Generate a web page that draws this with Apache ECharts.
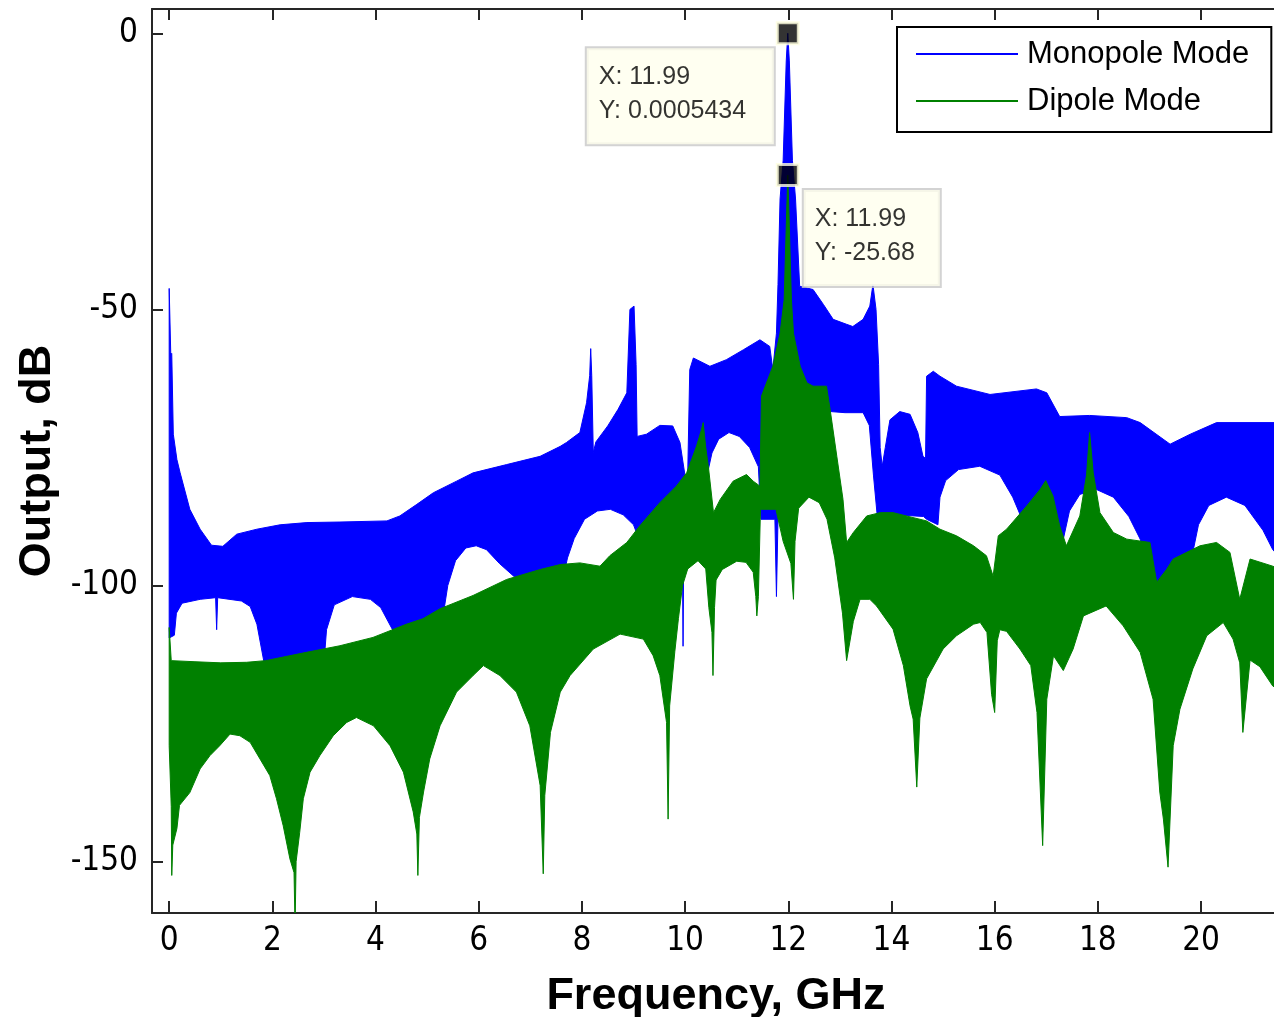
<!DOCTYPE html>
<html>
<head>
<meta charset="utf-8">
<script src="https://cdn.jsdelivr.net/npm/echarts@6/dist/echarts.min.js"></script>
<style>
  html, body { margin: 0; padding: 0; background: #fff; }
  #chart { width: 1274px; height: 1017px; }
</style>
</head>
<body>
<div id="chart"></div>
<script>
// Peak readings shown in the data tips: [frequency GHz, output dB]
const monopolePeak = [11.99, 0.0005434];
const dipolePeak = [11.99, -25.68];

// Monopole mode: upper and lower edges of the oscillating response band [GHz, dB]
const monopoleUpper = [
  [0.00,-46.2],[0.03,-57.8],[0.05,-58],[0.08,-72.6],[0.15,-77.2],[0.21,-79.5],[0.40,-86.2],[0.60,-89.8],
  [0.82,-92.7],[1.04,-92.9],[1.31,-90.7],[1.70,-89.8],[2.15,-89.0],[2.67,-88.6],[3.31,-88.5],[4.22,-88.3],
  [4.47,-87.4],[4.80,-85.3],[5.12,-83.2],[5.57,-81.1],[5.89,-79.6],[6.54,-78.1],[7.19,-76.6],[7.58,-74.8],
  [7.70,-74.1],[7.96,-72.3],[8.09,-66.9],[8.15,-62],[8.17,-57.1],[8.19,-62],[8.22,-75.9],[8.27,-74],
  [8.50,-71.1],[8.70,-68.1],[8.87,-65.1],[8.93,-50.0],[9.01,-49.4],[9.05,-60],[9.07,-73],[9.25,-72.6],
  [9.51,-71],[9.76,-71.1],[9.90,-74.1],[10.00,-80.2],[10.05,-80],[10.09,-60.9],[10.16,-58.8],[10.48,-60.3],
  [10.80,-59.1],[11.13,-57.3],[11.45,-55.5],[11.64,-56.7],[11.70,-60.9],[11.77,-54.3],[11.80,-45.5],
  [11.84,-30],[11.90,-23],[11.96,-5],monopolePeak,[12.02,-5],[12.08,-23],[12.14,-30],[12.22,-45.8],
  [12.48,-46.4],[12.68,-49.1],[12.87,-51.8],[13.13,-52.7],[13.25,-53.1],[13.45,-51.8],[13.58,-49.4],
  [13.64,-45.5],[13.70,-50],[13.75,-60],[13.78,-75],[13.82,-78.4],[13.88,-75],[13.97,-70],[14.16,-68.5],
  [14.36,-69],[14.51,-72.3],[14.61,-76.6],[14.66,-77],[14.68,-62.1],[14.81,-61.2],[14.94,-62.1],
  [15.26,-63.9],[15.91,-65.4],[16.81,-64.4],[17.01,-65.1],[17.26,-69.4],[17.84,-69.2],[18.56,-69.6],
  [18.82,-70.5],[19.40,-74.4],[19.79,-72.6],[20.30,-70.5],[21.53,-70.5]
];
const monopoleLower = [
  [0.00,-109.5],[0.10,-109],[0.14,-105],[0.25,-103.2],[0.60,-102.5],[0.90,-102.2],[0.92,-108],[0.94,-102.2],
  [1.40,-102.8],[1.57,-103.8],[1.70,-107],[1.85,-114.5],[3.00,-114],[3.05,-108],[3.20,-103.5],[3.55,-102],
  [3.90,-102.5],[4.10,-104],[4.30,-107.5],[4.45,-110],[5.30,-106],[5.40,-100],[5.55,-95.5],[5.75,-93.2],
  [5.95,-92.8],[6.15,-93.5],[6.40,-96],[6.70,-98.5],[6.80,-100],[7.65,-98],[7.72,-95],[7.85,-91.5],
  [8.05,-88],[8.30,-86.5],[8.55,-86.2],[8.80,-87.2],[9.00,-89],[9.12,-92],[9.15,-94],[9.85,-88],
  [9.94,-84],[9.96,-111],[9.98,-84],[10.10,-80],[10.30,-78],[10.45,-79],[10.52,-76],[10.65,-73.5],
  [10.85,-72.3],[11.05,-73],[11.25,-75],[11.42,-78.5],[11.47,-88],[11.74,-88],[11.77,-102],[11.80,-88],
  [12.00,-84],[12.50,-66],[12.72,-66],[12.82,-68.5],[13.10,-68.7],[13.45,-68.7],[13.57,-71],[13.65,-80],
  [13.72,-87],[14.62,-87.5],[14.68,-88],[14.90,-89],[14.94,-84],[15.05,-81],[15.30,-79],[15.71,-78.4],
  [16.10,-80],[16.35,-84],[16.53,-88],[16.60,-94],[17.30,-94],[17.33,-91.6],[17.45,-86.5],[17.65,-83.5],
  [17.97,-82.6],[18.30,-84],[18.60,-87.5],[18.82,-91.6],[19.00,-97],[19.20,-105.5],[19.40,-98],
  [19.70,-95],[19.84,-94],[19.95,-89],[20.15,-85.5],[20.49,-84],[20.85,-85.5],[21.20,-90],[21.39,-93.5],
  [21.53,-95]
];

// Dipole mode: upper and lower edges of the oscillating response band [GHz, dB]
const dipoleUpper = [
  [0.00,-107.6],[0.04,-113.6],[0.50,-113.8],[1.00,-114],[1.50,-113.9],[1.87,-113.6],[2.66,-112.1],
  [3.31,-110.9],[3.95,-109.4],[4.60,-107],[4.92,-106],[5.25,-104.2],[5.89,-101.8],[6.54,-98.9],
  [7.19,-97.1],[7.58,-96.2],[7.96,-95.9],[8.35,-96.5],[8.54,-94.6],[8.87,-92.2],[9.12,-89.2],[9.51,-85],
  [9.83,-82],[10.03,-79.6],[10.22,-74.8],[10.31,-72],[10.35,-70.5],[10.40,-75],[10.45,-78.4],
  [10.55,-86.8],[10.68,-84.4],[10.93,-81.1],[11.19,-79.9],[11.32,-81.1],[11.45,-82],[11.48,-65.7],
  [11.70,-60.3],[11.84,-54.3],[11.92,-48.2],[11.96,-35],dipolePeak,[12.02,-35],[12.06,-48.2],
  [12.10,-54.3],[12.23,-60.3],[12.36,-63.3],[12.48,-63.9],[12.74,-63.9],[12.81,-68.1],[12.94,-76.6],
  [13.06,-84.4],[13.13,-92.2],[13.26,-90.4],[13.52,-87.4],[13.78,-86.8],[14.03,-86.8],[14.68,-88.3],
  [14.94,-89.8],[15.26,-91],[15.59,-92.8],[15.84,-94.6],[15.97,-98.3],[16.07,-91],[16.23,-89.8],
  [16.62,-85.6],[16.88,-82.6],[16.99,-81],[17.13,-83.8],[17.26,-89.2],[17.39,-92.8],[17.65,-87.4],
  [17.78,-80],[17.84,-72.3],[17.91,-79.6],[18.04,-86.8],[18.30,-90.4],[18.56,-91.6],[19.01,-92.2],
  [19.14,-99.4],[19.33,-97.1],[19.46,-95.2],[19.98,-92.8],[20.30,-92.2],[20.56,-94],[20.75,-102.5],
  [20.95,-95.2],[21.39,-96.5],[21.53,-97]
];
const dipoleLower = [
  [0.00,-129],[0.04,-140],[0.05,-152.5],[0.07,-147],[0.15,-144],[0.20,-139.8],[0.40,-137.5],[0.60,-133.2],
  [0.79,-130.8],[0.98,-129],[1.18,-126.9],[1.37,-127.2],[1.57,-128.4],[1.76,-131.4],[1.95,-134.4],
  [2.08,-138.6],[2.21,-143.5],[2.34,-149.5],[2.42,-152],[2.44,-162],[2.46,-150],[2.53,-144.7],
  [2.60,-138.6],[2.73,-133.8],[2.92,-130.8],[3.18,-127.2],[3.44,-124.8],[3.63,-123.9],[3.96,-125.4],
  [4.28,-129],[4.54,-133.8],[4.73,-141],[4.80,-145],[4.82,-152.5],[4.85,-142],[4.93,-137.4],[5.05,-131.4],
  [5.25,-125.4],[5.57,-119.3],[5.89,-116.3],[6.09,-114.5],[6.41,-116.3],[6.73,-119.3],[6.99,-125.4],
  [7.19,-136.2],[7.25,-152.2],[7.28,-138],[7.39,-126.6],[7.58,-119.3],[7.77,-116.3],[8.22,-111.5],
  [8.74,-108.8],[9.19,-109.7],[9.38,-112.7],[9.51,-116.3],[9.64,-124.8],[9.67,-142.3],[9.70,-121.8],
  [9.80,-112],[9.87,-106],[9.95,-100],[10.05,-97],[10.25,-95.5],[10.40,-97],[10.46,-104],[10.52,-108.5],
  [10.54,-116.3],[10.57,-104],[10.60,-99],[10.72,-97.1],[11.00,-95.6],[11.18,-95.8],[11.32,-97.6],
  [11.37,-102],[11.39,-105.5],[11.42,-102],[11.46,-86.2],[11.76,-86.2],[11.90,-92],[12.05,-96],
  [12.10,-102.5],[12.13,-92],[12.20,-86],[12.40,-84],[12.60,-85],[12.75,-88],[12.90,-95],[13.05,-105],
  [13.13,-113.6],[13.26,-106.5],[13.39,-102.5],[13.58,-102.5],[13.71,-103.7],[14.03,-107.9],[14.23,-114.5],
  [14.36,-121.8],[14.42,-124.2],[14.49,-136.5],[14.55,-124],[14.68,-116.9],[15.00,-111.5],[15.26,-109.1],
  [15.59,-107],[15.72,-106.7],[15.85,-108.5],[15.94,-119.7],[16.00,-123],[16.05,-110],[16.10,-108],
  [16.23,-108.3],[16.49,-111.5],[16.70,-114.5],[16.82,-123],[16.93,-147.1],[17.01,-120.6],[17.14,-112.7],
  [17.33,-115.4],[17.52,-111.5],[17.72,-105.5],[18.16,-103.7],[18.49,-107.3],[18.82,-112.1],[19.07,-120.6],
  [19.20,-137.4],[19.27,-142.3],[19.36,-151],[19.46,-129],[19.59,-122.4],[19.84,-115.1],[20.11,-109.1],
  [20.43,-106.7],[20.62,-109.7],[20.75,-114],[20.81,-126.6],[20.95,-113.5],[21.14,-114.7],[21.39,-118.2],
  [21.53,-119]
];

// Axis ticks
const xTicks = [0, 2, 4, 6, 8, 10, 12, 14, 16, 18, 20];
const yTicks = [-150, -100, -50, 0];

const FONT = 'Liberation Sans, Arial, sans-serif';
const TICK_FONT = 'Liberation Sans Narrow, Arial Narrow, DejaVu Sans Condensed, Liberation Sans, sans-serif';
const AXIS_COLOR = '#262626';

// A response band: polygon running along the upper edge and back along the lower edge
function bandSeries(name, color, upper, lower) {
  const outline = upper.concat(lower.slice().reverse());
  return {
    type: 'custom',
    name: name,
    coordinateSystem: 'cartesian2d',
    clip: true,
    silent: true,
    itemStyle: { color: color },
    encode: { x: 0, y: 1 },
    data: outline,
    renderItem: function (params, api) {
      if (params.dataIndexInside !== 0) return null;
      const n = params.dataInsideLength;
      const pts = [];
      for (let i = 0; i < n; i++) {
        pts.push(api.coord([api.value(0, i), api.value(1, i)]));
      }
      return {
        type: 'polygon',
        shape: { points: pts },
        style: { fill: color, stroke: color, lineWidth: 1 }
      };
    }
  };
}

// Data tip: black square marker with a pale yellow box stating its coordinates
function dataTip(point, offset, width, padding) {
  return {
    type: 'scatter',
    data: [point],
    symbol: 'rect',
    symbolSize: 21,
    clip: false,
    z: 10,
    silent: true,
    itemStyle: { color: '#000', borderColor: '#ffffe0', borderWidth: 3 },
    label: {
      show: true,
      position: offset,
      formatter: function (p) { return 'X: ' + p.value[0] + '\nY: ' + p.value[1]; },
      fontFamily: FONT,
      fontSize: 25,
      lineHeight: 34,
      color: '#000',
      align: 'left',
      verticalAlign: 'top',
      width: width,
      padding: padding,
      backgroundColor: '#ffffee',
      borderColor: '#c8c8c8',
      borderWidth: 2
    }
  };
}

const axisLineStyle = { color: AXIS_COLOR, width: 2 };

const chart = echarts.init(document.getElementById('chart'), null, { renderer: 'canvas' });

chart.setOption({
  animation: false,
  backgroundColor: '#fff',
  grid: { left: 152, top: 9, right: -6, bottom: 104, containLabel: false, outerBoundsMode: 'none' },
  legend: {
    data: [
      { name: 'Monopole Mode', icon: 'rect' },
      { name: 'Dipole Mode', icon: 'rect' }
    ],
    orient: 'vertical',
    left: 897,
    top: 27,
    padding: [9, 22, 13, 19],
    itemWidth: 102,
    itemHeight: 2,
    itemGap: 11,
    borderColor: '#000',
    borderWidth: 2,
    backgroundColor: '#fff',
    selectedMode: false,
    textStyle: { fontFamily: FONT, fontSize: 31, lineHeight: 36, color: '#000', padding: [0, 0, 0, 4] }
  },
  xAxis: [
    {
      type: 'value',
      min: -0.333,
      max: 21.53,
      position: 'bottom',
      axisLine: { onZero: false, lineStyle: axisLineStyle },
      axisTick: { inside: true, length: 12, customValues: xTicks, lineStyle: axisLineStyle },
      axisLabel: { customValues: xTicks, fontFamily: TICK_FONT, fontSize: 33, color: '#000', margin: 12 },
      splitLine: { show: false },
      name: 'Frequency, GHz',
      nameLocation: 'middle',
      nameGap: 61,
      nameTextStyle: { fontFamily: FONT, fontSize: 45, fontWeight: 'bold', color: '#000' }
    },
    {
      type: 'value',
      min: -0.333,
      max: 21.53,
      position: 'top',
      axisLine: { onZero: false, lineStyle: axisLineStyle },
      axisTick: { inside: true, length: 11, customValues: xTicks, lineStyle: axisLineStyle },
      axisLabel: { show: false },
      splitLine: { show: false }
    }
  ],
  yAxis: [
    {
      type: 'value',
      min: -159.3,
      max: 4.4,
      position: 'left',
      axisLine: { show: true, onZero: false, lineStyle: axisLineStyle },
      axisTick: { show: true, inside: true, length: 11, customValues: yTicks, lineStyle: axisLineStyle },
      axisLabel: { customValues: yTicks, fontFamily: TICK_FONT, fontSize: 33, color: '#000', margin: 14 },
      splitLine: { show: false },
      name: 'Output, dB',
      nameLocation: 'middle',
      nameGap: 92,
      nameTextStyle: { fontFamily: FONT, fontSize: 45, fontWeight: 'bold', color: '#000' }
    }
  ],
  series: [
    bandSeries('Monopole Mode', '#0000ff', monopoleUpper, monopoleLower),
    bandSeries('Dipole Mode', '#008000', dipoleUpper, dipoleLower),
    dataTip(monopolePeak, [-189, 27], 163, [12, 12, 16, 12]),
    dataTip(dipolePeak, [28, 27], 113, [12, 12, 16, 11])
  ]
});
</script>
</body>
</html>
